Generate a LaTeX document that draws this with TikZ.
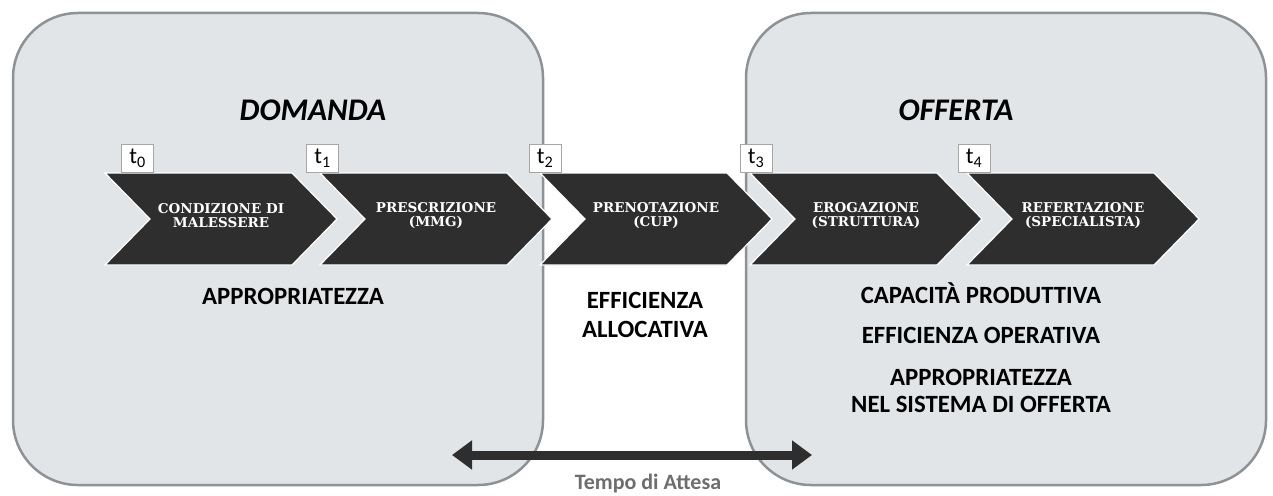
\documentclass[tikz,border=0pt]{standalone}
\usepackage{fontspec}
\setmainfont{Carlito}
\newfontfamily\chevfont{DejaVu Serif}
\usetikzlibrary{arrows.meta}
\definecolor{panelfill}{HTML}{E2E5E8}
\definecolor{panelline}{HTML}{8E9296}
\definecolor{chevdark}{HTML}{2E2E2E}
\definecolor{tgray}{HTML}{6E6E6E}
\tikzset{
  panel/.style={fill=panelfill, draw=panelline, line width=2.5pt, rounded corners=65pt},
  chev/.style={fill=chevdark, draw=white, line width=1.2pt, line join=miter},
  chevtext/.style={text=white, inner sep=0pt, font=\chevfont\bfseries\fontsize{13.5}{14}\selectfont, align=center},
  tbox/.style={draw=gray!70, fill=white, line width=0.8pt, minimum width=32pt, minimum height=28pt, inner sep=0pt, font=\fontsize{23}{23}\selectfont},
  title/.style={inner sep=0pt, font=\bfseries\itshape\fontsize{31.5}{31.5}\selectfont},
  lab/.style={inner sep=0pt, font=\bfseries\fontsize{24.8}{29}\selectfont, align=center},
  waitarrow/.style={line width=9pt, draw=chevdark, {Triangle[length=20pt,width=28pt]}-{Triangle[length=20pt,width=28pt]}},
}
\begin{document}
\begin{tikzpicture}[x=1pt,y=-1pt]
\useasboundingbox (0,0) rectangle (1273,495);
\fill[white] (0,0) rectangle (1273,495);
% panels
\draw[panel] (13,13) rectangle (543,485);
\draw[panel] (746,13) rectangle (1266,485);
% chevrons
\foreach \L/\n/\t in {105/c0/{CONDIZIONE DI\\MALESSERE},
                      320/c1/{PRESCRIZIONE\\(MMG)},
                      540/c2/{PRENOTAZIONE\\(CUP)},
                      750/c3/{EROGAZIONE\\(STRUTTURA)},
                      967/c4/{REFERTAZIONE\\(SPECIALISTA)}}{
  \draw[chev] (\L,173) -- ++(187,0) -- ++(45,46) -- ++(-45,46) -- ++(-187,0) -- ++(45,-46) -- cycle;
  \node[chevtext] (\n) at (\L+116,216) {\t};
}
% time boxes
\node[tbox] (t0) at (137.5,158.5) {t\textsubscript{0}};
\node[tbox] (t1) at (322.5,158.5) {t\textsubscript{1}};
\node[tbox] (t2) at (545,158.5) {t\textsubscript{2}};
\node[tbox] (t3) at (756,158.5) {t\textsubscript{3}};
\node[tbox] (t4) at (974,158.5) {t\textsubscript{4}};
% titles
\node[title, anchor=base] (dom) at (313,120) {DOMANDA};
\node[title, anchor=base] (off) at (956,120) {OFFERTA};
% labels
\node[lab, anchor=north] (appr) at (293,288) {APPROPRIATEZZA};
\node[lab, anchor=north] (effa) at (645,292) {EFFICIENZA\\ALLOCATIVA};
\node[lab, anchor=base] (cap) at (981,303) {CAPACITÀ PRODUTTIVA};
\node[lab, anchor=base] (effo) at (981,343) {EFFICIENZA OPERATIVA};
\node[lab, anchor=north, font=\bfseries\fontsize{24.8}{27}\selectfont] (appo) at (981,369) {APPROPRIATEZZA\\NEL SISTEMA DI OFFERTA};
% waiting time arrow
\coordinate (aL) at (452,455);
\coordinate (aR) at (812,455);
\draw[waitarrow] (aL) -- (aR);
\node[inner sep=0pt, anchor=base, text=tgray, font=\bfseries\fontsize{22}{22}\selectfont] (wait) at (648,489) {Tempo di Attesa};
\end{tikzpicture}
\end{document}
